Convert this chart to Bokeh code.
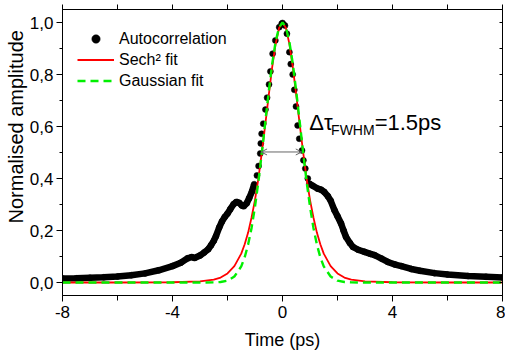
from bokeh.plotting import figure
from bokeh.models import (LinearAxis, FixedTicker, CustomJSTickFormatter, Legend, LegendItem,
                          Label, Arrow, OpenHead, Range1d, ColumnDataSource, Title)
from bokeh.embed import file_html
from bokeh.resources import INLINE

# ---------------- data ----------------
acf_t = [-8.0, -7.5, -7.0, -6.5, -6.0, -5.5, -5.0, -4.5, -4.0, -3.7, -3.45, -3.3, -3.2, -3.0,
         -2.85, -2.7, -2.6, -2.5, -2.42, -2.3, -2.2, -2.1, -2.0, -1.9, -1.78, -1.68, -1.57,
         -1.48, -1.41, -1.3, -1.21, -1.11, -1.03,
         -0.93, -0.87, -0.81, -0.79, -0.76, -0.70, -0.62, -0.56, -0.49, -0.44, -0.36, -0.26,
         -0.12, -0.03, 0.0, 0.04, 0.09, 0.16, 0.25, 0.30, 0.37, 0.43, 0.49, 0.55, 0.61, 0.71,
         0.76, 0.83, 0.92,
         0.98, 1.1, 1.28, 1.4, 1.52, 1.65, 1.75, 1.89, 2.0, 2.13, 2.22, 2.31, 2.45, 2.56, 2.75,
         2.98, 3.2, 3.35, 3.6, 3.83, 4.1, 4.32, 4.68, 5.0, 5.53, 6.0, 6.75, 7.4, 8.0]
acf_v = [0.015, 0.016, 0.018, 0.020, 0.023, 0.028, 0.035, 0.047, 0.063, 0.076, 0.093, 0.098, 0.094, 0.104,
         0.115, 0.128, 0.143, 0.160, 0.178, 0.212, 0.235, 0.252, 0.265, 0.282, 0.301, 0.310, 0.306,
         0.296, 0.293, 0.305, 0.325, 0.350, 0.378,
         0.412, 0.448, 0.496, 0.535, 0.572, 0.611, 0.665, 0.711, 0.762, 0.812, 0.880, 0.931,
         0.982, 0.995, 0.998, 0.992, 0.988, 0.957, 0.886, 0.840, 0.800, 0.741, 0.677, 0.604, 0.553, 0.508,
         0.470, 0.438, 0.400,
         0.380, 0.372, 0.361, 0.357, 0.348, 0.332, 0.315, 0.278, 0.255, 0.227, 0.200, 0.175, 0.152, 0.137, 0.126,
         0.118, 0.110, 0.105, 0.092, 0.079, 0.069, 0.063, 0.052, 0.045, 0.036, 0.031, 0.025, 0.022, 0.019]

fit_t = [-8, -6, -4, -3, -2.5, -2.25, -2, -1.75, -1.5, -1.375, -1.25, -1.125, -1, -0.875, -0.75,
         -0.625, -0.5, -0.375, -0.25, -0.125, 0, 0.125, 0.25, 0.375, 0.5, 0.625, 0.75, 0.875, 1,
         1.125, 1.25, 1.375, 1.5, 1.75, 2, 2.25, 2.5, 3, 4, 6, 8]
sech2_v = [0.0, 0.0, 0.001, 0.004, 0.011, 0.019, 0.035, 0.063, 0.111, 0.147, 0.192, 0.250, 0.318, 0.401, 0.501,
           0.609, 0.721, 0.828, 0.918, 0.979, 1.0, 0.979, 0.918, 0.828, 0.721, 0.609, 0.501, 0.401, 0.318,
           0.250, 0.192, 0.147, 0.111, 0.063, 0.035, 0.019, 0.011, 0.004, 0.001, 0.0, 0.0]
gauss_v = [0.0, 0.0, 0.0, 0.0, 0.0005, 0.002, 0.007, 0.023, 0.062, 0.097, 0.146, 0.210, 0.292, 0.389, 0.500,
           0.618, 0.735, 0.841, 0.926, 0.981, 1.0, 0.981, 0.926, 0.841, 0.735, 0.618, 0.500, 0.389, 0.292,
           0.210, 0.146, 0.097, 0.062, 0.023, 0.007, 0.002, 0.0005, 0.0, 0.0, 0.0, 0.0]

x_major = [-8, -4, 0, 4, 8]
x_minor = [-6, -2, 2, 6]
x_top = [-8, -6, -4, -2, 0, 2, 4, 6, 8]
y_major = [0.0, 0.2, 0.4, 0.6, 0.8, 1.0]
y_minor = [0.1, 0.3, 0.5, 0.7, 0.9]
y_right = [0.0, 0.1, 0.2, 0.3, 0.4, 0.5, 0.6, 0.7, 0.8, 0.9, 1.0]

fwhm_left, fwhm_right, half_level = -0.78, 0.70, 0.502

FONT = "Liberation Sans"

# ---------------- figure ----------------
p = figure(width=505, height=357, x_range=Range1d(-8, 8), y_range=Range1d(-0.05, 1.05),
           output_backend="svg", toolbar_location=None,
           min_border_left=62, min_border_right=3, min_border_top=9, min_border_bottom=62)
p.xgrid.visible = False
p.ygrid.visible = False
p.outline_line_color = "black"
p.outline_line_width = 1
p.background_fill_color = "white"
p.border_fill_color = "white"

src_all = ColumnDataSource(dict(t=acf_t, v=acf_v))
left_idx = [i for i, t in enumerate(acf_t) if t <= -1.0]
right_idx = [i for i, t in enumerate(acf_t) if t >= 0.95]
src_l = ColumnDataSource(dict(t=[acf_t[i] for i in left_idx], v=[acf_v[i] for i in left_idx]))
src_r = ColumnDataSource(dict(t=[acf_t[i] for i in right_idx], v=[acf_v[i] for i in right_idx]))

p.line("t", "v", source=src_l, line_color="black", line_width=6.5)
p.line("t", "v", source=src_r, line_color="black", line_width=6.5)
dots = p.scatter("t", "v", source=src_all, size=6, fill_color="black", line_color="black", line_width=0.5)

src_fit = ColumnDataSource(dict(t=fit_t, s=sech2_v, g=gauss_v))
red = p.line("t", "s", source=src_fit, line_color="#ff0000", line_width=1.8)
green = p.line("t", "g", source=src_fit, line_color="#00f000", line_width=2.4, line_dash="8 5")

# ---------------- axes ----------------
xa = p.xaxis[0]
xa.ticker = FixedTicker(ticks=x_major, minor_ticks=x_minor)
xa.formatter = CustomJSTickFormatter(code="return tick.toFixed(0);")
ya = p.yaxis[0]
ya.ticker = FixedTicker(ticks=y_major, minor_ticks=y_minor)
ya.formatter = CustomJSTickFormatter(code="return tick.toFixed(1).replace('.', ',');")
for ax in (xa, ya):
    ax.axis_line_color = "black"
    ax.major_tick_line_color = "black"
    ax.minor_tick_line_color = "black"
    ax.major_tick_in = 0
    ax.minor_tick_in = 0
    ax.major_label_text_font = FONT
    ax.major_label_text_font_size = "17px"
    ax.major_label_text_color = "black"
xa.major_tick_out = 6
xa.minor_tick_out = 5
xa.major_label_standoff = 4
ya.major_tick_out = 6
ya.minor_tick_out = 3
ya.major_label_standoff = 3

xa.axis_label = "Time (ps)"
xa.axis_label_text_font = FONT
xa.axis_label_text_font_size = "18px"
xa.axis_label_text_font_style = "normal"
xa.axis_label_text_color = "black"
xa.axis_label_standoff = 9

top = LinearAxis(ticker=FixedTicker(ticks=x_top, minor_ticks=[]), major_tick_out=5, major_tick_in=0,
                 major_label_text_color=None, major_label_text_font_size="0px",
                 major_label_standoff=0, axis_line_color="black", major_tick_line_color="black")
p.add_layout(top, "above")
right = LinearAxis(ticker=FixedTicker(ticks=y_right, minor_ticks=[]), major_tick_out=0, major_tick_in=3,
                   major_label_text_color=None, major_label_text_font_size="0px",
                   major_label_standoff=0, axis_line_color="black", major_tick_line_color="black")
p.add_layout(right, "right")

# y axis title placed in the left panel, starting above the bottom as in the reference
ytitle = Title(text="Normalised amplitude", align="left", offset=72, standoff=0,
               text_font=FONT, text_font_size="20px", text_font_style="normal", text_color="black")
p.add_layout(ytitle, "left")

# ---------------- legend ----------------
legend = Legend(items=[LegendItem(label="Autocorrelation", renderers=[dots]),
                       LegendItem(label="Sech\u00b2 fit", renderers=[red]),
                       LegendItem(label="Gaussian fit", renderers=[green])],
                location=(15, 204), border_line_color=None, background_fill_alpha=0,
                padding=0, margin=0, spacing=0, glyph_width=37, glyph_height=21, label_height=21,
                label_standoff=5, label_text_font=FONT, label_text_font_size="16px",
                label_text_color="black")
p.add_layout(legend)

# ---------------- annotation ----------------
p.add_layout(Arrow(start=OpenHead(size=6, line_color="#666666", line_width=1),
                   end=OpenHead(size=6, line_color="#666666", line_width=1),
                   x_start=fwhm_left, y_start=half_level, x_end=fwhm_right, y_end=half_level,
                   line_color="#666666", line_width=1))
p.add_layout(Label(x=0.977, y=0.617, text="\u0394\u03c4", text_font=FONT, text_font_size="22px",
                   text_baseline="alphabetic", text_align="left", text_color="black"))
p.add_layout(Label(x=1.767, y=0.588, text="FWHM", text_font=FONT, text_font_size="14px",
                   text_baseline="alphabetic", text_align="left", text_color="black"))
p.add_layout(Label(x=3.35, y=0.617, text="=1.5ps", text_font=FONT, text_font_size="22px",
                   text_baseline="alphabetic", text_align="left", text_color="black"))

open("out.html", "w").write(file_html(p, INLINE))
